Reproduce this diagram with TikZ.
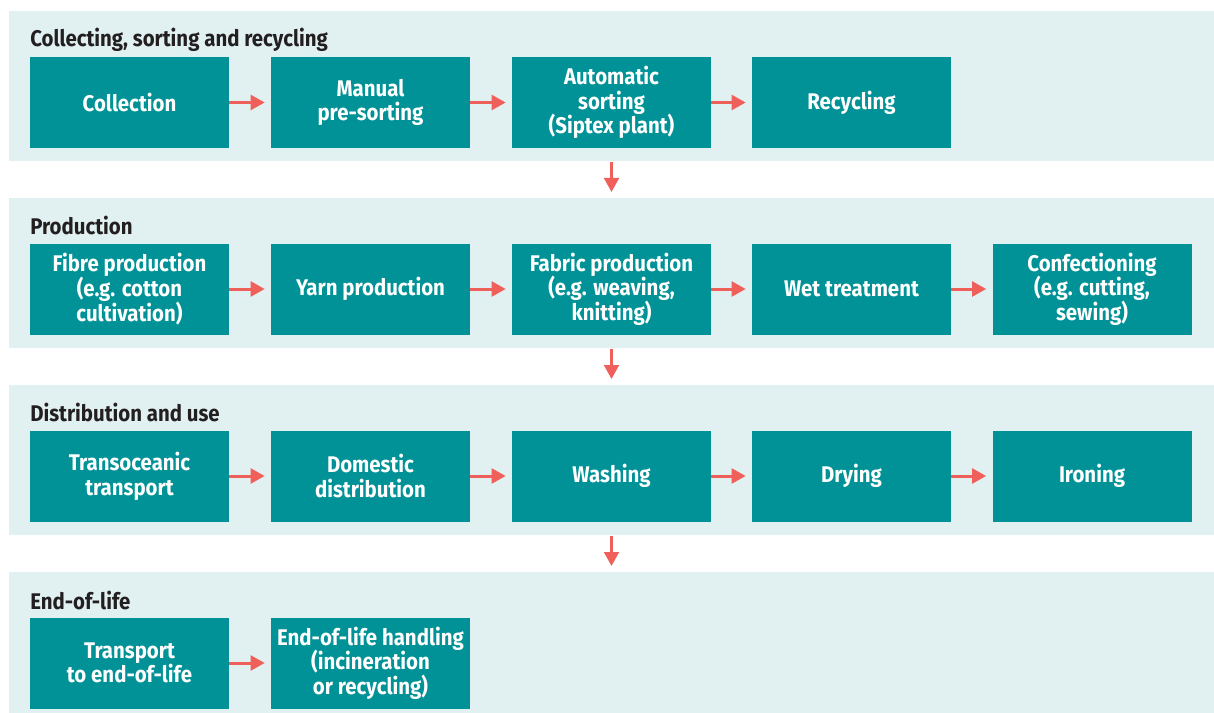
\documentclass[tikz,border=0pt]{standalone}
\usepackage{fontspec}
\setmainfont{Fira Sans}[FakeStretch=0.9]
\usetikzlibrary{arrows.meta}
\definecolor{bandBg}{HTML}{E1F0F0}
\definecolor{boxTeal}{HTML}{009296}
\definecolor{arrowRed}{HTML}{F0605A}
\definecolor{titleInk}{HTML}{231F20}
\newcommand{\pxUnit}{0.75pt}
\newcommand{\boxWidth}{149.25pt}
\newcommand{\boxHeight}{68.25pt}
\newcommand{\bandWidth}{903.75pt}
\newcommand{\bandHeight}{112.5pt}
\newcommand{\stageFont}{\bfseries\fontsize{17}{18.5}\selectfont}

\tikzset{
  band/.style={fill=bandBg, inner sep=0pt, anchor=north west, minimum width=\bandWidth, minimum height=\bandHeight},
  bandtitle/.style={anchor=base west, inner sep=0pt, text=titleInk, font=\stageFont},
  stage/.style={fill=boxTeal, text=white, inner sep=0pt, align=center, minimum width=\boxWidth, minimum height=\boxHeight, font=\stageFont},
  flow/.style={draw=arrowRed, line width=2.25pt, -{Triangle[length=10.5pt,width=11pt]}, shorten >=4.5pt}
}

\begin{document}
\begin{tikzpicture}[x=\pxUnit, y=-\pxUnit]
\useasboundingbox (0,0) rectangle (1214,713);
% background bands
\node[band] (bandCollect) at (9,11) {};
\node[band] (bandProd) at (9,198) {};
\node[band] (bandUse) at (9,385) {};
\node[band, minimum height=105.75pt] (bandEnd) at (9,572) {};
\node[bandtitle] (titleCollect) at (30,47) {Collecting, sorting and recycling};
\node[bandtitle] (titleProd) at (30,234) {Production};
\node[bandtitle] (titleUse) at (30,421) {Distribution and use};
\node[bandtitle] (titleEnd) at (30,609) {End-of-life};

% collecting, sorting and recycling
\node[stage] (collection) at (129.5,102.5) {Collection};
\node[stage] (presort) at (370.5,102.5) {Manual\\pre-sorting};
\node[stage] (autosort) at (611.5,102.5) {Automatic\\sorting\\(Siptex plant)};
\node[stage] (recycling) at (851.5,102.5) {Recycling};
\draw[flow] (collection) -- (presort);
\draw[flow] (presort) -- (autosort);
\draw[flow] (autosort) -- (recycling);

% production
\node[stage] (fibre) at (129.5,289) {Fibre production\\(e.g. cotton\\cultivation)};
\node[stage] (yarn) at (370.5,289) {Yarn production};
\node[stage] (fabric) at (611.5,289) {Fabric production\\(e.g. weaving,\\knitting)};
\node[stage] (wet) at (851.5,289) {Wet treatment};
\node[stage] (confection) at (1092,289) {Confectioning\\(e.g. cutting,\\sewing)};
\draw[flow] (fibre) -- (yarn);
\draw[flow] (yarn) -- (fabric);
\draw[flow] (fabric) -- (wet);
\draw[flow] (wet) -- (confection);

% distribution and use
\node[stage] (oceanic) at (129.5,476) {Transoceanic\\transport};
\node[stage] (domestic) at (370.5,476) {Domestic\\distribution};
\node[stage] (washing) at (611.5,476) {Washing};
\node[stage] (drying) at (851.5,476) {Drying};
\node[stage] (ironing) at (1092,476) {Ironing};
\draw[flow] (oceanic) -- (domestic);
\draw[flow] (domestic) -- (washing);
\draw[flow] (washing) -- (drying);
\draw[flow] (drying) -- (ironing);

% end-of-life
\node[stage] (eoltransport) at (129.5,663) {Transport\\to end-of-life};
\node[stage] (eolhandling) at (370.5,663) {End-of-life handling\\(incineration\\or recycling)};
\draw[flow] (eoltransport) -- (eolhandling);

% between the bands
\draw[flow] (autosort.south |- bandCollect.south) -- (autosort.south |- bandProd.north);
\draw[flow] (autosort.south |- bandProd.south) -- (autosort.south |- bandUse.north);
\draw[flow] (autosort.south |- bandUse.south) -- (autosort.south |- bandEnd.north);
\end{tikzpicture}
\end{document}
